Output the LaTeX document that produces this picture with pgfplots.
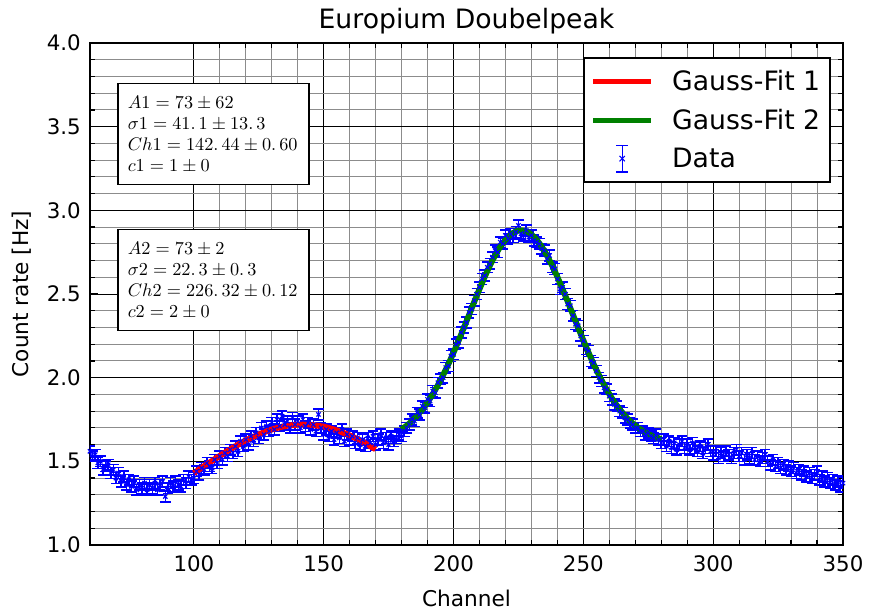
\documentclass[border=0pt]{standalone}
\usepackage{fontspec}
\setmainfont{DejaVu Sans}
\usepackage{pgfplots}
\usepackage{pgfplotstable}
\pgfplotsset{compat=1.18}
\usetikzlibrary{calc}

\definecolor{fitred}{rgb}{1,0,0}
\definecolor{fitgreen}{rgb}{0,0.5,0}
\definecolor{datablue}{rgb}{0,0,1}

% measured count rate per channel
\pgfplotstableread{
ch rate
60 1.56
61 1.53
62 1.54
63 1.49
64 1.50
65 1.45
66 1.47
67 1.48
68 1.43
69 1.45
70 1.40
71 1.43
72 1.38
73 1.41
74 1.36
75 1.39
76 1.35
77 1.38
78 1.33
79 1.36
80 1.34
81 1.37
82 1.33
83 1.36
84 1.34
85 1.37
86 1.33
87 1.36
88 1.38
89 1.29
90 1.34
91 1.37
92 1.35
93 1.38
94 1.36
95 1.35
96 1.39
97 1.37
98 1.41
99 1.39
100 1.40
101 1.44
102 1.42
103 1.46
104 1.45
105 1.49
106 1.47
107 1.46
108 1.51
109 1.49
110 1.53
111 1.51
112 1.55
113 1.53
114 1.57
115 1.55
116 1.59
117 1.56
118 1.62
119 1.59
120 1.63
121 1.60
122 1.65
123 1.62
124 1.67
125 1.64
126 1.70
127 1.66
128 1.71
129 1.68
130 1.73
131 1.69
132 1.75
133 1.71
134 1.77
135 1.72
136 1.74
137 1.70
138 1.76
139 1.72
140 1.74
141 1.70
142 1.75
143 1.71
144 1.73
145 1.69
146 1.72
147 1.68
148 1.78
149 1.70
150 1.66
151 1.69
152 1.65
153 1.68
154 1.63
155 1.67
156 1.64
157 1.69
158 1.62
159 1.66
160 1.63
161 1.65
162 1.61
163 1.64
164 1.60
165 1.63
166 1.59
167 1.64
168 1.61
169 1.65
170 1.60
171 1.63
172 1.66
173 1.61
174 1.64
175 1.60
176 1.65
177 1.62
178 1.64
179 1.66
180 1.65
181 1.68
182 1.70
183 1.72
184 1.75
185 1.74
186 1.79
187 1.78
188 1.83
189 1.82
190 1.87
191 1.86
192 1.92
193 1.91
194 1.97
195 1.99
196 2.00
197 2.06
198 2.07
199 2.13
200 2.14
201 2.20
202 2.21
203 2.27
204 2.30
205 2.33
206 2.39
207 2.41
208 2.46
209 2.50
210 2.54
211 2.59
212 2.61
213 2.66
214 2.68
215 2.72
216 2.76
217 2.75
218 2.81
219 2.80
220 2.85
221 2.83
222 2.86
223 2.84
224 2.87
225 2.91
226 2.86
227 2.85
228 2.88
229 2.84
230 2.85
231 2.82
232 2.81
233 2.80
234 2.77
235 2.76
236 2.71
237 2.73
238 2.66
239 2.65
240 2.59
241 2.53
242 2.54
243 2.50
244 2.44
245 2.43
246 2.37
247 2.32
248 2.31
249 2.25
250 2.22
251 2.17
252 2.16
253 2.10
254 2.09
255 2.04
256 2.00
257 1.98
258 1.94
259 1.93
260 1.89
261 1.87
262 1.84
263 1.83
264 1.80
265 1.79
266 1.76
267 1.75
268 1.73
269 1.72
270 1.70
271 1.70
272 1.68
273 1.68
274 1.66
275 1.67
276 1.65
277 1.64
278 1.66
279 1.63
280 1.61
281 1.63
282 1.59
283 1.62
284 1.58
285 1.61
286 1.57
287 1.60
288 1.62
289 1.58
290 1.60
291 1.57
292 1.61
293 1.58
294 1.56
295 1.59
296 1.55
297 1.58
298 1.60
299 1.56
300 1.54
301 1.56
302 1.52
303 1.55
304 1.53
305 1.56
306 1.54
307 1.52
308 1.55
309 1.57
310 1.53
311 1.55
312 1.51
313 1.54
314 1.52
315 1.55
316 1.51
317 1.53
318 1.50
319 1.52
320 1.54
321 1.50
322 1.48
323 1.51
324 1.47
325 1.49
326 1.46
327 1.48
328 1.45
329 1.47
330 1.44
331 1.46
332 1.43
333 1.45
334 1.42
335 1.44
336 1.41
337 1.43
338 1.40
339 1.42
340 1.44
341 1.39
342 1.41
343 1.38
344 1.40
345 1.37
346 1.39
347 1.36
348 1.38
349 1.35
350 1.37
}\datatable

% first Gauss fit, channels 100-170
\pgfplotstableread{
ch rate
100 1.430
105 1.482
110 1.533
115 1.581
120 1.625
125 1.661
130 1.690
135 1.710
140 1.719
142 1.720
145 1.718
150 1.707
155 1.685
160 1.655
165 1.616
170 1.572
}\fitone

% second Gauss fit, channels 180-280
\pgfplotstableread{
ch rate
180 1.691
182 1.714
184 1.741
186 1.773
188 1.811
190 1.853
192 1.902
194 1.956
196 2.016
198 2.080
200 2.150
202 2.223
204 2.299
206 2.376
208 2.454
210 2.529
212 2.602
214 2.669
216 2.730
218 2.782
220 2.824
222 2.855
224 2.874
226 2.880
228 2.874
230 2.855
232 2.824
234 2.782
236 2.730
238 2.669
240 2.602
242 2.529
244 2.454
246 2.376
248 2.299
250 2.223
252 2.150
254 2.080
256 2.016
258 1.956
260 1.902
262 1.853
264 1.811
266 1.773
268 1.741
270 1.714
272 1.691
274 1.672
276 1.656
278 1.644
280 1.633
}\fittwo

\begin{document}
\begin{tikzpicture}
\begin{axis}[
  scale only axis,
  width=451.8pt, height=301.2pt,
  xmin=60, xmax=350, ymin=1.0, ymax=4.0,
  xtick={100,150,...,350},
  ytick={1.0,1.5,...,4.0},
  minor x tick num=4,
  minor y tick num=4,
  tick pos=both,
  tick align=inside,
  major tick length=5pt,
  minor tick length=3pt,
  every tick/.style={black, line width=0.7pt},
  axis line style={black, line width=1pt},
  grid=both,
  major grid style={black, line width=0.6pt},
  minor grid style={black!45, line width=0.6pt},
  /pgf/number format/assume math mode=true,
  y tick label style={/pgf/number format/fixed,
    /pgf/number format/fixed zerofill,
    /pgf/number format/precision=1,
    /tikz/xshift=-2pt},
  x tick label style={/tikz/yshift=-3pt},
  tick label style={font=\fontsize{12.8}{15}\selectfont},
  xlabel={Channel},
  ylabel={Count rate [Hz]},
  label style={font=\fontsize{13}{15}\selectfont},
  xlabel style={at={(axis description cs:0.5,-0.1056)}, anchor=center},
  ylabel style={at={(axis description cs:-0.0903,0.5)}, anchor=center},
  title={Europium Doubelpeak},
  every axis title shift=0pt,
  title style={at={(axis description cs:0.5,1.0438)}, anchor=center,
    font=\fontsize{16}{19}\selectfont},
  legend style={at={(axis description cs:0.984,0.972)}, anchor=north east,
    draw=black, line width=0.9pt, fill=white,
    font=\fontsize{16}{19}\selectfont,
    inner xsep=4pt, inner ysep=5.4pt,
    row sep=5.6pt,
    /tikz/every odd column/.append style={column sep=9pt}},
  legend cell align=left,
]

% measured points with error bars
\addplot[datablue, only marks, mark=x, mark size=1.8pt, forget plot,
  mark options={line width=0.7pt},
  error bars/.cd, y dir=both, y fixed=0.032,
  error bar style={color=datablue, line width=0.9pt},
  error mark options={rotate=90, mark size=3.2pt, color=datablue, line width=0.9pt}]
  table[x=ch, y=rate] {\datatable};

\addplot[fitred, line width=3.5pt, smooth,
  legend image code/.code={\draw[fitred, line width=3pt] (0pt,0pt) -- (35pt,0pt);}]
  table[x=ch, y=rate] {\fitone};
\addlegendentry{Gauss-Fit 1}

\addplot[fitgreen, line width=3.5pt, smooth,
  legend image code/.code={\draw[fitgreen, line width=3pt] (0pt,0pt) -- (35pt,0pt);}]
  table[x=ch, y=rate] {\fittwo};
\addlegendentry{Gauss-Fit 2}

\addlegendimage{color=datablue, legend image code/.code={
  \draw[color=datablue, line width=0.8pt] (17.5pt,-8pt) -- (17.5pt,8pt);
  \draw[color=datablue, line width=0.8pt] (14pt,-8pt) -- (21pt,-8pt);
  \draw[color=datablue, line width=0.8pt] (14pt,8pt) -- (21pt,8pt);
  \draw[color=datablue, line width=0.6pt] (15.9pt,-1.6pt) -- (19.1pt,1.6pt);
  \draw[color=datablue, line width=0.6pt] (15.9pt,1.6pt) -- (19.1pt,-1.6pt);
}}
\addlegendentry{Data}

% fit parameter boxes
\node[draw=black, line width=0.9pt, fill=white, anchor=north west,
  minimum width=114.6pt, minimum height=60.6pt,
  text width=102.6pt, inner xsep=6pt, align=left,
  font=\fontsize{10.5}{12.6}\selectfont]
  at (axis cs:70.4,3.761)
  {$A1=73\pm62$\\
   $\sigma1=41.\,1\pm13.\,3$\\
   $Ch1=142.\,44\pm0.\,60$\\
   $c1=1\pm0$};

\node[draw=black, line width=0.9pt, fill=white, anchor=north west,
  minimum width=114.6pt, minimum height=60.6pt,
  text width=102.6pt, inner xsep=6pt, align=left,
  font=\fontsize{10.5}{12.6}\selectfont]
  at (axis cs:70.4,2.889)
  {$A2=73\pm2$\\
   $\sigma2=22.\,3\pm0.\,3$\\
   $Ch2=226.\,32\pm0.\,12$\\
   $c2=2\pm0$};
\end{axis}
\pgfresetboundingbox
\path[use as bounding box] ($(current axis.south west)+(-54pt,-40.2pt)$)
  rectangle ($(current axis.north east)+(15.6pt,25.8pt)$);
\end{tikzpicture}
\end{document}
